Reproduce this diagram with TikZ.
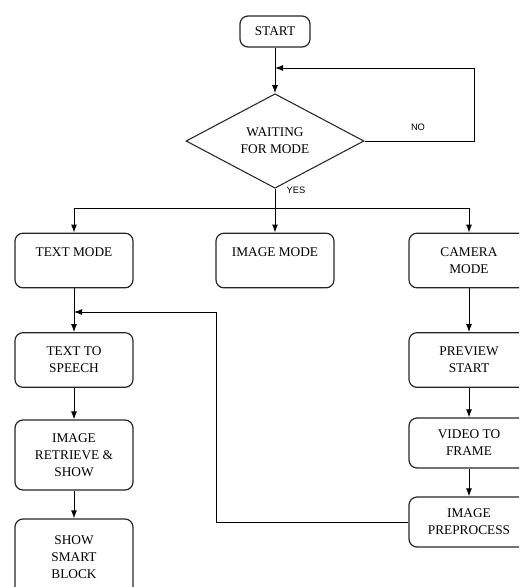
\documentclass[tikz,border=0pt]{standalone}
\usepackage{fontspec}
\setmainfont{Liberation Serif}
\newfontfamily\labelfont{Liberation Sans}
\usetikzlibrary{shapes.geometric,arrows.meta}
\begin{document}
\begin{tikzpicture}[
    x=0.75pt, y=-0.75pt,
    box/.style={rectangle, draw=black!85, line width=0.9pt, rounded corners=6pt,
        align=center, inner sep=0pt, font=\fontsize{10}{12.75}\selectfont,
        minimum width=88.5pt, minimum height=41pt},
    decision/.style={diamond, draw=black!85, line width=0.8pt, inner sep=0pt,
        align=center, font=\fontsize{10}{12.75}\selectfont,
        minimum width=133.5pt, minimum height=67.5pt},
    flow/.style={-{Latex[length=6pt,width=4.5pt]}, line width=0.75pt},
    line/.style={line width=0.75pt},
    answer/.style={font=\labelfont\fontsize{7}{8}\selectfont}
]
\useasboundingbox (0,0) rectangle (519,587);
\clip (0,0) rectangle (519,587);

% Debut
\node[box, minimum width=52.5pt, minimum height=23.25pt] (start) at (275,31.5) {START};
\node[decision] (wait) at (275,141) {WAITING\\FOR MODE};
\coordinate (loopin) at (275,68);
\coordinate (noturn) at (474,68);
\coordinate (split) at (275,208);

\draw[flow] (start) -- (wait);
\draw[flow] (wait.east) -| (noturn) -- (loopin);
\node[answer] (no) at (418,127) {NO};
\draw[line] (wait.south) -- (split);
\node[answer] (yes) at (296,190) {YES};

% Modes
\node[box] (textmode) at (74,260.5) {TEXT MODE\\\mbox{}};
\node[box] (imagemode) at (275,260.5) {IMAGE MODE\\\mbox{}};
\node[box, minimum width=90pt] (cameramode) at (469,260.5) {CAMERA\\MODE};

\draw[flow] (split) -| (textmode.north);
\draw[flow] (split) -- (imagemode.north);
\draw[flow] (split) -| (cameramode.north);

% Texte
\node[box] (speech) at (74,360) {TEXT TO\\SPEECH};
\node[box, minimum height=52.5pt] (retrieve) at (74,455) {IMAGE\\RETRIEVE \&\\SHOW};
\node[box, minimum height=57pt] (smart) at (74,557) {SHOW\\SMART\\BLOCK};

\draw[flow] (textmode) -- (speech);
\draw[flow] (speech) -- (retrieve);
\draw[flow] (retrieve) -- (smart);

% Camera
\node[box, minimum width=90pt] (preview) at (469,360) {PREVIEW\\START};
\node[box, minimum width=90pt, minimum height=37.5pt] (videoframe) at (469,443) {VIDEO TO\\FRAME};
\node[box, minimum width=90pt, minimum height=37.5pt] (preproc) at (469,522) {IMAGE\\PREPROCESS};

\draw[flow] (cameramode) -- (preview);
\draw[flow] (preview) -- (videoframe);
\draw[flow] (videoframe) -- (preproc);

% Retour
\coordinate (backturn) at (216,312);
\coordinate (backin) at (74,312);
\draw[flow] (preproc.west) -| (backturn) -- (backin);
\end{tikzpicture}
\end{document}
